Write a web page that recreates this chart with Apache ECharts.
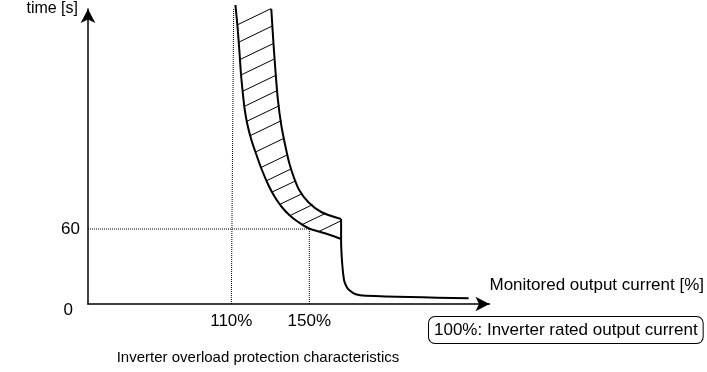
<!DOCTYPE html>
<html><head><meta charset="utf-8">
<script src="https://cdn.jsdelivr.net/npm/echarts@6/dist/echarts.min.js"></script>
<style>html,body{margin:0;padding:0;background:#fff}#c{width:707px;height:372px}</style>
</head><body><div id="c"></div>
<script>
// ---- data (x: monitored output current [%], y: time [s], schematic) ----
const xTickValues = [110, 150];
const yTickValues = [0, 60];
const limitPoint = [150, 60];
const guide110 = [[110, 0], [111.2, 236.5]];
const lowerCurve = [[112.1,239.2],[113.1,223.2],[114.1,203.2],[115.0,183.2],[116.0,167.2],[116.9,155.2],[118.3,143.2],[120.3,131.2],[122.9,119.2],[125.7,107.2],[129.0,95.2],[132.3,85.6],[135.9,77.6],[139.7,71.2],[144.3,65.6],[149.6,60.6],[157.6,56.8],[162.2,54.4],[166.3,52]];
const upperCurve = [[130.5,236],[131.5,211.2],[132.6,187.2],[133.9,163.2],[135.6,143.2],[137.6,127.2],[139.7,112.8],[142.0,101.6],[144.8,91.2],[149.4,81.6],[156.1,73.6],[166.3,68]];
const dropCurve = [[166.3,68],[166.3,51.2],[166.8,33.6],[167.8,19.2],[168.9,14.4],[170.4,11.2],[173.8,7.8],[178.9,6.6],[231.7,4.6]];
const hatchLower = [[113.2,223.4],[113.9,209.5],[114.5,195.6],[115.1,183.3],[115.8,170.2],[116.7,158.1],[118.1,146.3],[120.1,135.0],[122.7,121.8],[125.1,109.1],[127.9,98.5],[131.1,89.7],[135.1,79.9],[140.1,70.8],[146.4,63.6],[155.0,58.1]];
const hatchUpper = [[130.5,236.4],[131.1,222.5],[131.7,208.5],[132.3,196.2],[132.9,183.0],[133.7,170.9],[134.7,158.7],[135.7,146.7],[137.0,132.6],[138.8,119.4],[140.7,108.1],[142.8,98.4],[146.5,88.4],[151.7,79.5],[158.4,72.6],[166.3,66.6]];
const xName = 'Monitored output current [%]';
const yName = 'time [s]';
const noteText = '100%: Inverter rated output current';
const captionText = 'Inverter overload protection characteristics';

const xMin = 36.5, xMax = 242.4, yMin = 0, yMax = 236;
const FONT = "'Liberation Sans', Arial, sans-serif";

const chart = echarts.init(document.getElementById('c'), null, {renderer: 'canvas'});
const black = '#000';
const hatchData = hatchLower.map((p, i) => ({coords: [p, hatchUpper[i]]}));

chart.setOption({
  animation: false,
  backgroundColor: '#fff',
  textStyle: {fontFamily: FONT},
  grid: {left: 88, right: 216, top: 9, bottom: 68, containLabel: false},
  xAxis: {
    type: 'value', min: xMin, max: xMax,
    name: xName, nameLocation: 'end', nameGap: 0,
    nameTextStyle: {fontFamily: FONT, fontSize: 17, color: black, align: 'left', verticalAlign: 'bottom', padding: [0, 0, 10, 0]},
    axisLine: {show: true, lineStyle: {color: black, width: 1.5}, symbol: ['none', 'arrow'], symbolSize: [11, 14]},
    axisTick: {show: false},
    splitLine: {show: false},
    axisLabel: {customValues: xTickValues, formatter: '{value}%', margin: 9, fontFamily: FONT, fontSize: 17, color: black}
  },
  yAxis: {
    type: 'value', min: yMin, max: yMax,
    name: yName, nameLocation: 'end', nameGap: 0,
    nameTextStyle: {fontFamily: FONT, fontSize: 16, color: black, align: 'right', verticalAlign: 'middle', padding: [4, 10, 0, 0]},
    axisLine: {show: true, lineStyle: {color: black, width: 1.5}, symbol: ['none', 'arrow'], symbolSize: [11, 14]},
    axisTick: {show: false},
    splitLine: {show: false},
    axisLabel: {
      customValues: yTickValues, margin: 8, fontFamily: FONT, fontSize: 17, color: black,
      formatter: v => v === 0 ? '{o|0}' : String(v),
      rich: {o: {fontFamily: FONT, fontSize: 17, color: black, padding: [12, 7, 0, 0]}}
    }
  },
  graphic: [
    {type: 'text', left: 428, top: 316, style: {text: noteText, fontFamily: FONT, fontSize: 17, fill: black,
      borderColor: black, borderWidth: 1, borderRadius: 6, padding: [5, 5, 4, 5], backgroundColor: '#fff'}},
    {type: 'text', x: 258, y: 358, style: {text: captionText, fontFamily: FONT, fontSize: 15, fill: black, align: 'center', verticalAlign: 'middle'}}
  ],
  series: [
    {type: 'line', name: 'guide110', data: guide110, symbol: 'none', clip: false, silent: true,
      lineStyle: {color: black, width: 1, type: 'dotted'}},
    {type: 'line', name: 'guide60', data: [[xMin, limitPoint[1]], limitPoint], symbol: 'none', silent: true,
      lineStyle: {color: black, width: 1, type: 'dotted'}},
    {type: 'line', name: 'guide150', data: [[limitPoint[0], 0], limitPoint], symbol: 'none', silent: true,
      lineStyle: {color: black, width: 1, type: 'dotted'}},
    {type: 'lines', coordinateSystem: 'cartesian2d', data: hatchData, clip: false, silent: true,
      lineStyle: {color: black, width: 1, opacity: 1, curveness: 0}},
    {type: 'line', name: 'lower', data: lowerCurve, symbol: 'none', smooth: 0.3, clip: false, silent: true,
      lineStyle: {color: black, width: 2}},
    {type: 'line', name: 'upper', data: upperCurve, symbol: 'none', smooth: 0.3, clip: false, silent: true,
      lineStyle: {color: black, width: 2}},
    {type: 'line', name: 'drop', data: dropCurve, symbol: 'none', smooth: 0.35, clip: false, silent: true,
      lineStyle: {color: black, width: 2}}
  ]
});
</script></body></html>
